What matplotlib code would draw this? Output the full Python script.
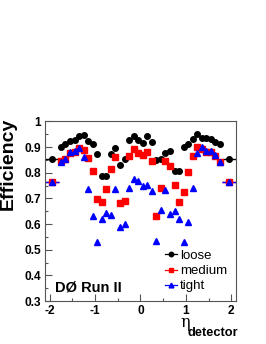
import numpy as np
import matplotlib
matplotlib.use('Agg')
import matplotlib.pyplot as plt

plt.rcParams['font.family'] = ['Liberation Sans', 'DejaVu Sans']
plt.rcParams['mathtext.fontset'] = 'custom'
plt.rcParams['mathtext.rm'] = 'DejaVu Serif'

# bin centres in eta_detector (inner region) and the two outer bins
eta = [-1.75, -1.65, -1.55, -1.45, -1.35, -1.25, -1.15, -1.05, -0.95, -0.85,
       -0.75, -0.65, -0.55, -0.45, -0.35, -0.25, -0.15, -0.05, 0.05, 0.15,
       0.25, 0.35, 0.45, 0.55, 0.65, 0.75, 0.85, 0.95, 1.05, 1.15,
       1.25, 1.35, 1.45, 1.55, 1.65, 1.75]
eta_outer = [-1.95, 1.95]
eta_outer_err = [0.15, 0.15]

loose = [0.901, 0.911, 0.923, 0.928, 0.945, 0.948, 0.925, 0.911, 0.873, 0.787,
         0.787, 0.873, 0.898, 0.831, 0.852, 0.928, 0.945, 0.928, 0.916, 0.944,
         0.920, 0.848, 0.853, 0.878, 0.884, 0.808, 0.808, 0.901, 0.911, 0.930,
         0.951, 0.936, 0.936, 0.933, 0.921, 0.911]
medium = [0.845, 0.853, 0.878, 0.880, 0.895, 0.890, 0.856, 0.808, 0.698, 0.686,
          0.738, 0.813, 0.863, 0.683, 0.689, 0.865, 0.892, 0.878, 0.870, 0.882,
          0.845, 0.631, 0.742, 0.847, 0.826, 0.754, 0.687, 0.725, 0.801, 0.867,
          0.900, 0.893, 0.882, 0.882, 0.867, 0.842]
tight = [0.843, 0.853, 0.880, 0.883, 0.895, 0.863, 0.735, 0.632, 0.530, 0.619,
         0.643, 0.635, 0.736, 0.588, 0.601, 0.742, 0.775, 0.767, 0.750, 0.753,
         0.729, 0.532, 0.653, 0.732, 0.640, 0.649, 0.619, 0.529, 0.608, 0.740,
         0.878, 0.902, 0.886, 0.885, 0.870, 0.842]
loose_outer = [0.855, 0.855]
medium_outer = [0.765, 0.765]
tight_outer = [0.765, 0.765]

series = [('loose', loose, loose_outer, 'black', 'o', 4.0),
          ('medium', medium, medium_outer, 'red', 's', 4.0),
          ('tight', tight, tight_outer, 'blue', '^', 4.3)]

fig = plt.figure(figsize=(2.66, 3.44), dpi=100)
ax = fig.add_axes([0.169, 0.125, 0.718, 0.522])

handles = []
for name, vals, outer, col, mk, ms in series:
    ax.plot(eta, vals, ls='none', marker=mk, color=col, ms=ms, mec=col)
    ax.errorbar(eta_outer, outer, xerr=eta_outer_err, fmt=mk, color=col,
                ms=ms, elinewidth=1.0, capsize=0)
    h, = ax.plot([], [], color=col, marker=mk, ms=ms * 0.8, lw=0.9,
                 label=name)
    handles.append(h)

ax.set_xlim(-2.1, 2.1)
ax.set_ylim(0.3, 1.0)
ax.set_xticks([-2, -1, 0, 1, 2])
ax.set_xticks(np.arange(-2, 2.01, 0.5), minor=True)
ax.set_yticks(np.arange(0.3, 1.001, 0.1))
ax.set_yticks(np.arange(0.3, 1.001, 0.05), minor=True)
ax.set_xticklabels(['-2', '-1', '0', '1', '2'])
ax.set_yticklabels(['0.3', '0.4', '0.5', '0.6', '0.7', '0.8', '0.9', '1'])

for s in ax.spines.values():
    s.set_color('#555555')
    s.set_linewidth(0.8)
ax.tick_params(which='both', direction='in', colors='#555555',
               labelcolor='black', top=False, right=False)
ax.tick_params(which='major', length=5, width=0.8, labelsize=8.6)
ax.tick_params(which='minor', length=2.5, width=0.8)
ax.tick_params(axis='y', pad=3)
ax.tick_params(axis='x', pad=3)
for lb in ax.get_xticklabels() + ax.get_yticklabels():
    lb.set_fontweight('bold')

ax.legend(handles=handles, loc='upper left', bbox_to_anchor=(0.628, 0.285),
          frameon=False, fontsize=9.5, handlelength=0.9, handletextpad=0.25,
          labelspacing=0.22, borderpad=0, borderaxespad=0)

ax.text(0.052, 0.053, 'DØ Run II', transform=ax.transAxes, fontsize=10.5,
        fontweight='bold', ha='left', va='baseline')

fig.text(8 / 266, 1 - 164 / 344, 'Efficiency', rotation=90, fontsize=14,
         fontweight='bold', ha='center', va='center')
fig.text(179.5 / 266, 1 - 327 / 344, r'$\mathrm{\eta}$', fontsize=11.5,
         ha='left', va='baseline')
fig.text(187 / 266, 1 - 336.5 / 344, 'detector', fontsize=9.2,
         fontweight='bold', ha='left', va='baseline')

fig.savefig('out.png', dpi=100)
